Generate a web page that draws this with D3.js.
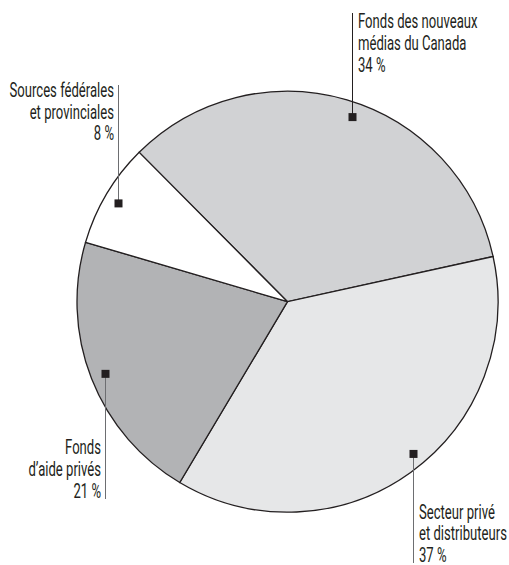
<!DOCTYPE html>
<html>
<head>
<meta charset="utf-8">
<script src="https://cdn.jsdelivr.net/npm/d3@7"></script>
<style>
  html, body { margin: 0; padding: 0; background: #ffffff; }
  svg { display: block; }
  .lbl { font-family: Roboto, "Noto Sans", sans-serif; font-size: 20px; fill: #231f20; }
</style>
</head>
<body>
<svg id="chart" width="509" height="565"></svg>
<script>
// Répartition du financement (%)
const categories = [
  "Fonds des nouveaux médias du Canada",
  "Secteur privé et distributeurs",
  "Fonds d'aide privés",
  "Sources fédérales et provinciales"
];
const shares = [34, 37, 21, 8];
const labelLines = [
  ["Fonds des nouveaux", "médias du Canada"],
  ["Secteur privé", "et distributeurs"],
  ["Fonds", "d’aide privés"],
  ["Sources fédérales", "et provinciales"]
];
const fills = ["#d1d2d4", "#e6e7e8", "#b2b3b5", "#ffffff"];

// Placement of the leader lines and text blocks
const labelLayout = [
  { shift: 2.9,  rm: 195.6, lineEnd: 13,  firstBaseline: 28,   anchor: "start" },
  { shift: -3.6, rm: 197,   lineEnd: 563, firstBaseline: 518.5, anchor: "start" },
  { shift: -0.2, rm: 196,   lineEnd: 499, firstBaseline: 454,  anchor: "end" },
  { shift: -0.7, rm: 196,   lineEnd: 85,  firstBaseline: 96.7, anchor: "end" }
];
const lineColors = ["#231f20", "#6d6e71", "#6d6e71", "#6d6e71"];

const cx = 287.5, cy = 301.7, radius = 210.5;
const rad = Math.PI / 180;
const start = -44.8 * rad;
const sx = 0.655, sy = 1.04, lineGap = 21.8;

const svg = d3.select("#chart");
const g = svg.append("g").attr("transform", `translate(${cx},${cy})`);

const pie = d3.pie().sort(null).value(d => d)
  .startAngle(start).endAngle(start + 2 * Math.PI);
const arcs = pie(shares);
const arc = d3.arc().innerRadius(0).outerRadius(radius);

g.selectAll("path.slice")
  .data(arcs)
  .join("path")
  .attr("class", "slice")
  .attr("d", arc)
  .attr("fill", (d, i) => fills[i])
  .attr("stroke", "#231f20")
  .attr("stroke-width", 1.3)
  .attr("stroke-linejoin", "miter");

// Labels with vertical leader lines and square markers
arcs.forEach((d, i) => {
  const L = labelLayout[i];
  const a = (d.startAngle + d.endAngle) / 2 + L.shift * rad;
  const mx = cx + L.rm * Math.sin(a);
  const my = cy - L.rm * Math.cos(a);
  const lx = Math.round(mx) + 0.5;

  svg.append("line")
    .attr("x1", lx).attr("x2", lx)
    .attr("y1", my).attr("y2", L.lineEnd)
    .attr("stroke", lineColors[i])
    .attr("stroke-width", 1);

  svg.append("rect")
    .attr("x", lx - 4).attr("y", my - 4)
    .attr("width", 8).attr("height", 8)
    .attr("fill", "#231f20");

  const lines = labelLines[i].concat([`${shares[i]} %`]);
  const tx = L.anchor === "start" ? lx + 5.5 : lx - 4.5;
  lines.forEach((t, k) => {
    svg.append("text")
      .attr("class", "lbl")
      .attr("text-anchor", L.anchor)
      .attr("transform", `translate(${tx},${L.firstBaseline + k * lineGap}) scale(${sx},${sy})`)
      .text(t);
  });
});
</script>
</body>
</html>
